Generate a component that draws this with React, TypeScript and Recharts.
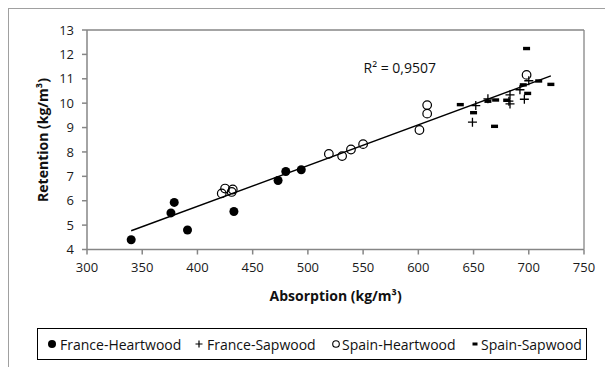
import React from 'react';
import { ScatterChart, Scatter, XAxis, YAxis, ReferenceLine } from 'recharts';

const xTicks = [300, 350, 400, 450, 500, 550, 600, 650, 700, 750];
const yTicks = [4, 5, 6, 7, 8, 9, 10, 11, 12, 13];

const franceHeartwood = [
  { x: 340, y: 4.4 }, { x: 376, y: 5.5 }, { x: 379, y: 5.93 }, { x: 391, y: 4.8 },
  { x: 433, y: 5.56 }, { x: 473, y: 6.83 }, { x: 480, y: 7.2 }, { x: 494, y: 7.27 },
];
const franceSapwood = [
  { x: 649, y: 9.22 }, { x: 652, y: 9.9 }, { x: 663, y: 10.18 }, { x: 683, y: 10.34 },
  { x: 682, y: 10.08 }, { x: 683, y: 9.97 }, { x: 692, y: 10.55 }, { x: 696, y: 10.16 },
  { x: 700, y: 10.92 },
];
const spainHeartwood = [
  { x: 422, y: 6.3 }, { x: 425, y: 6.5 }, { x: 431, y: 6.36 }, { x: 432, y: 6.46 },
  { x: 519, y: 7.92 }, { x: 531, y: 7.83 }, { x: 539, y: 8.1 }, { x: 550, y: 8.32 },
  { x: 601, y: 8.9 }, { x: 608, y: 9.92 }, { x: 608, y: 9.57 }, { x: 698, y: 11.16 },
];
const spainSapwood = [
  { x: 638, y: 9.94 }, { x: 650, y: 9.61 }, { x: 663, y: 10.08 }, { x: 670, y: 10.13 },
  { x: 669, y: 9.05 }, { x: 680, y: 10.12 }, { x: 695, y: 10.75 }, { x: 698, y: 12.24 },
  { x: 699, y: 10.4 }, { x: 709, y: 10.91 }, { x: 720, y: 10.77 },
];
const trendLine = [{ x: 340, y: 4.77 }, { x: 720, y: 11.12 }];

const seriesNames = ['France-Heartwood', 'France-Sapwood', 'Spain-Heartwood', 'Spain-Sapwood'];
const rSquaredText = 'R² = 0,9507';
const xTitle = 'Absorption (kg/m³)';
const yTitle = 'Retention (kg/m³)';

const FONT = '"Open Sans", "Noto Sans", sans-serif';
const AXIS_GRAY = '#868686';

const FilledCircle = (p: any) => <circle cx={p.cx} cy={p.cy} r={4.5} fill="#000" />;
const OpenCircle = (p: any) => <circle cx={p.cx} cy={p.cy} r={4.3} fill="none" stroke="#000" strokeWidth={1.2} />;
const Plus = (p: any) => (
  <path d={`M${p.cx - 4.5},${p.cy}H${p.cx + 4.5}M${p.cx},${p.cy - 4.5}V${p.cy + 4.5}`} stroke="#000" strokeWidth={1.3} fill="none" />
);
const Dash = (p: any) => <rect x={p.cx - 3.5} y={p.cy - 1.7} width={7} height={3.4} fill="#000" />;

const legendMarkers = [
  <circle cx={5} cy={5} r={4} fill="#000" />,
  <path d="M1.5,5H8.5M5,1.5V8.5" stroke="#000" strokeWidth={1.2} />,
  <circle cx={5} cy={5} r={3.3} fill="none" stroke="#000" strokeWidth={1.1} />,
  <rect x={2.5} y={3.5} width={5} height={3} fill="#000" />,
];
const legendMarkerX = [52, 199, 336, 475];
const legendTextX = [60, 207, 342, 481];

export default function App() {
  return (
    <div style={{ position: 'relative', width: 605, height: 359, fontFamily: FONT }}>
      <div
        style={{
          position: 'absolute', left: 0, top: 0, width: 605, height: 359, boxSizing: 'border-box',
          borderLeft: '1.5px solid #a0a0a0', borderTop: '1.5px solid #a0a0a0',
        }}
      />
      <ScatterChart width={605} height={359} margin={{ top: 22, right: 29, left: 0, bottom: 87.5 }}>
        <XAxis
          type="number" dataKey="x" domain={[300, 750]} ticks={xTicks} interval={0}
          height={30} tickSize={5} tickMargin={8}
          axisLine={{ stroke: AXIS_GRAY, strokeWidth: 1.5 }}
          tickLine={{ stroke: AXIS_GRAY, strokeWidth: 1.5 }}
          tick={{ fill: '#1a1a1a', fontSize: 13, fontFamily: FONT }}
        />
        <YAxis
          type="number" dataKey="y" domain={[4, 13]} ticks={yTicks} interval={0}
          width={79} tickSize={5} tickMargin={8}
          axisLine={{ stroke: AXIS_GRAY, strokeWidth: 1.5 }}
          tickLine={{ stroke: AXIS_GRAY, strokeWidth: 1.5 }}
          tick={{ fill: '#1a1a1a', fontSize: 13, fontFamily: FONT }}
        />
        <ReferenceLine y={13} stroke={AXIS_GRAY} strokeWidth={1.3} />
        <ReferenceLine x={750} stroke={AXIS_GRAY} strokeWidth={1.3} />
        <Scatter name={seriesNames[0]} data={franceHeartwood} shape={FilledCircle} isAnimationActive={false} />
        <Scatter name={seriesNames[1]} data={franceSapwood} shape={Plus} isAnimationActive={false} />
        <Scatter name={seriesNames[2]} data={spainHeartwood} shape={OpenCircle} isAnimationActive={false} />
        <Scatter name={seriesNames[3]} data={spainSapwood} shape={Dash} isAnimationActive={false} />
        <ReferenceLine segment={trendLine} stroke="#000" strokeWidth={1.4} />
      </ScatterChart>

      <div style={{ position: 'absolute', left: 355.5, top: 58.7, transform: 'translateY(-50%)', fontSize: 14, color: '#111', whiteSpace: 'nowrap' }}>
        {rSquaredText}
      </div>
      <div style={{ position: 'absolute', left: 327.6, top: 287, transform: 'translate(-50%, -50%)', fontSize: 14, fontWeight: 700, color: '#111', whiteSpace: 'nowrap' }}>
        {xTitle}
      </div>
      <div style={{ position: 'absolute', left: 33.7, top: 131.5, transform: 'translate(-50%, -50%) rotate(-90deg)', fontSize: 14, fontWeight: 700, color: '#111', whiteSpace: 'nowrap' }}>
        {yTitle}
      </div>

      <div style={{ position: 'absolute', left: 29, top: 320, width: 550, height: 32, border: '1.5px solid #000', boxSizing: 'border-box' }} />
      {seriesNames.map((n, i) => (
        <React.Fragment key={n}>
          <svg width={10} height={10} style={{ position: 'absolute', left: legendMarkerX[i] - 13, top: 336 - 5 }}>
            {legendMarkers[i]}
          </svg>
          <div style={{ position: 'absolute', left: legendTextX[i] - 8, top: 336, transform: 'translateY(-50%)', fontSize: 14, color: '#111', whiteSpace: 'nowrap' }}>
            {n}
          </div>
        </React.Fragment>
      ))}
    </div>
  );
}
